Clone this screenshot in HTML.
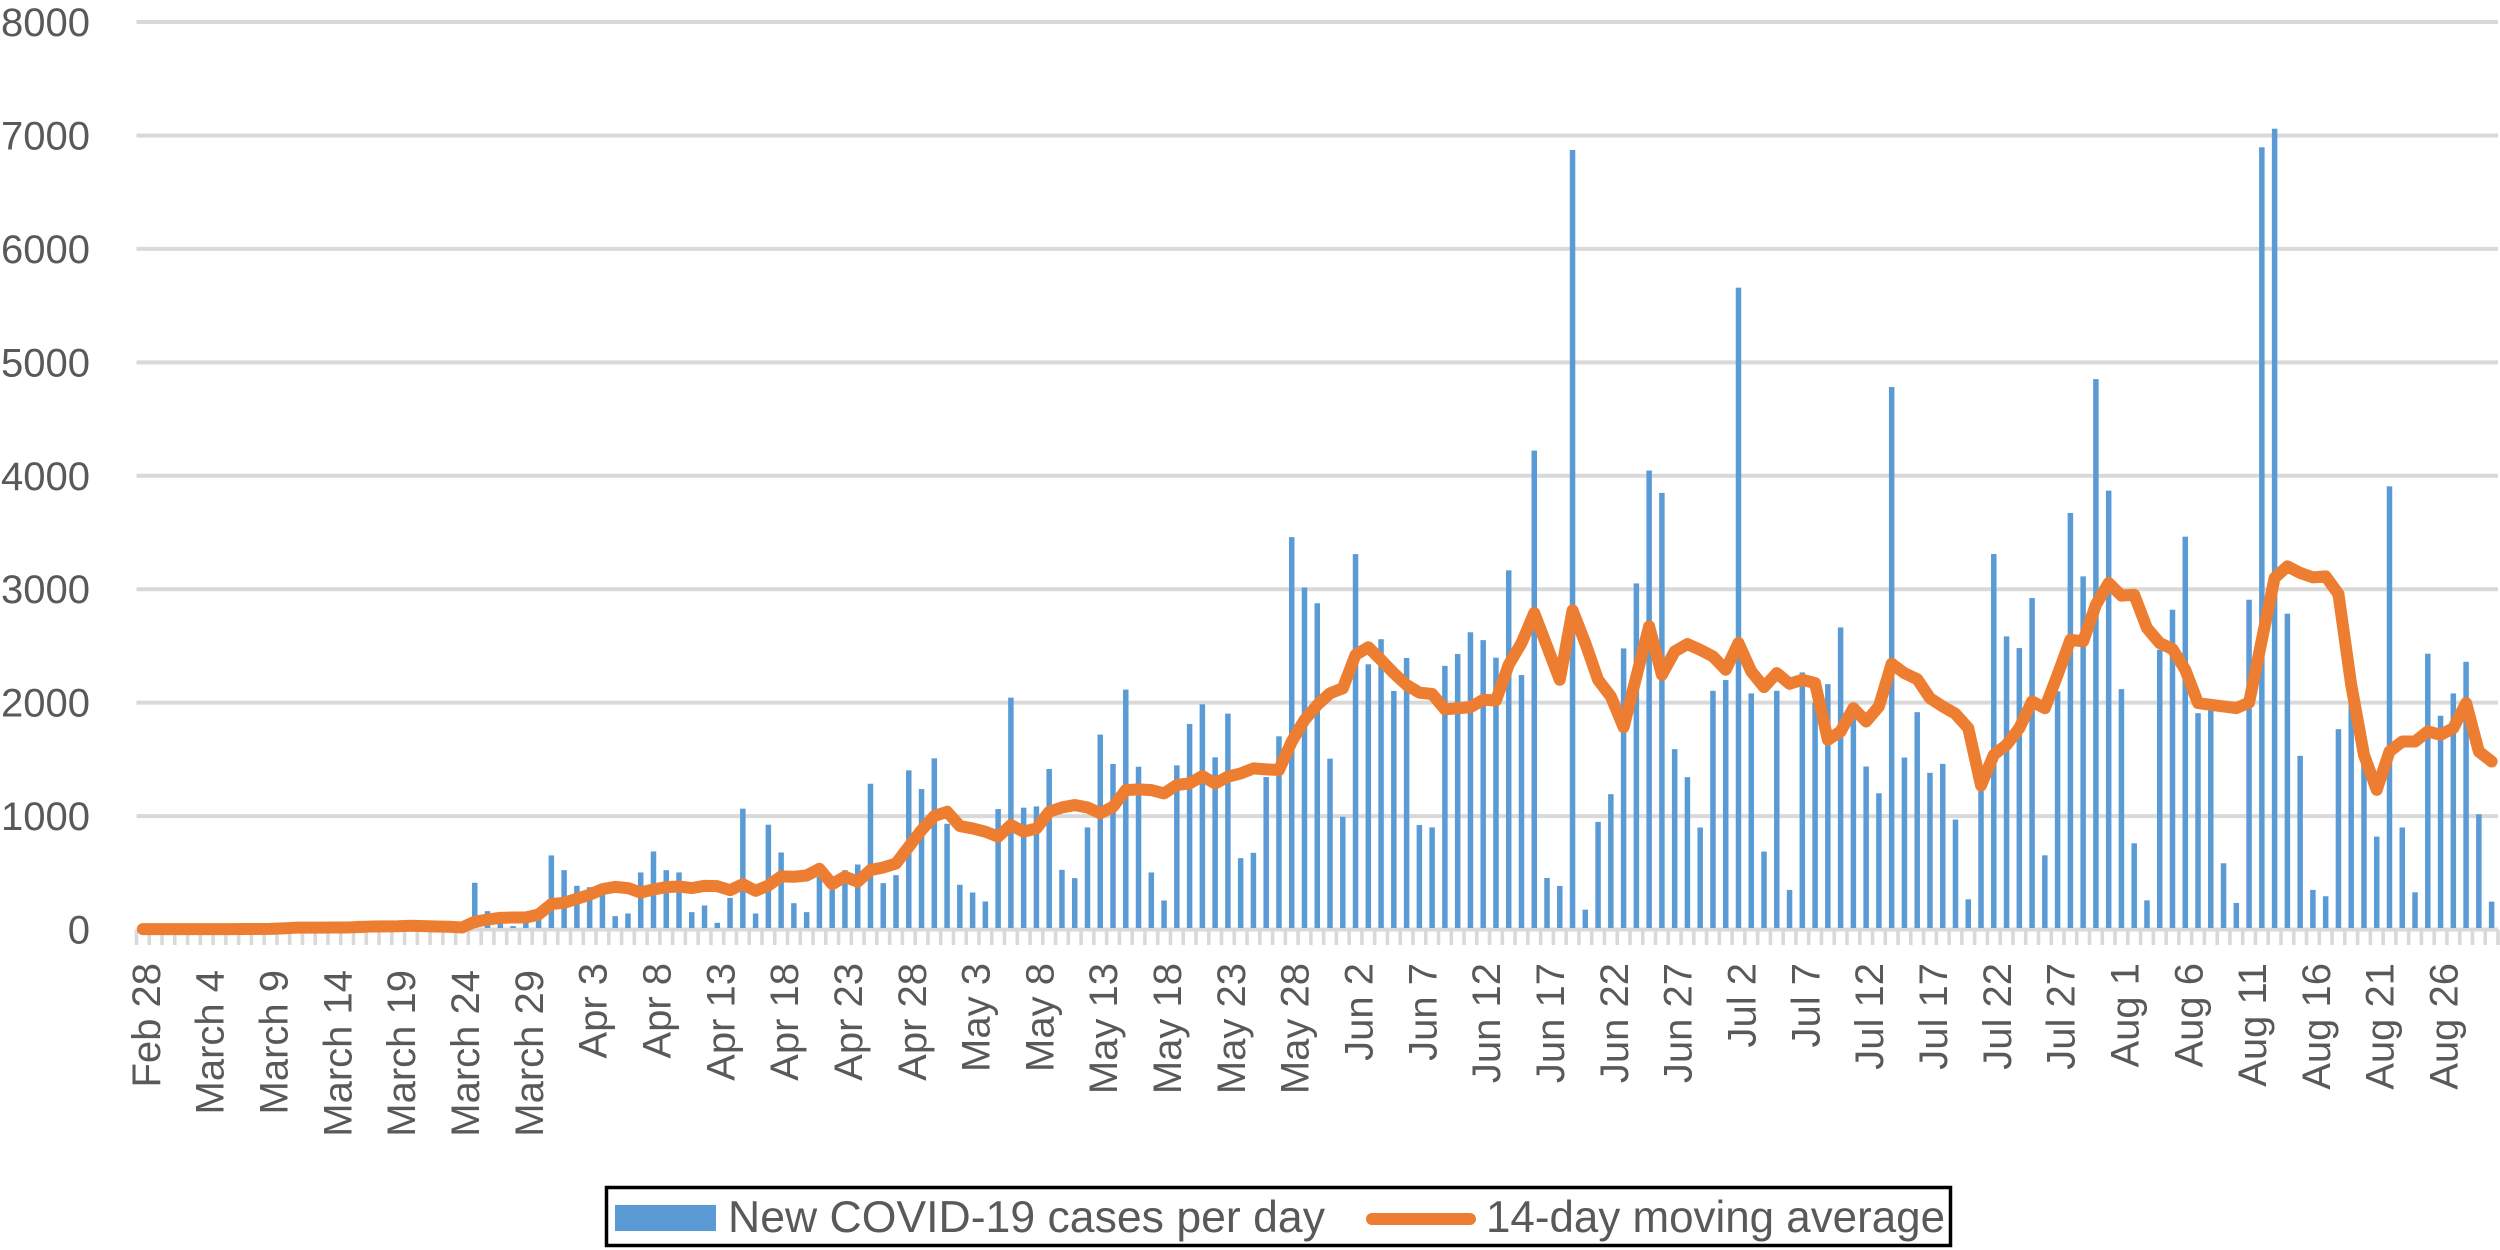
<!DOCTYPE html>
<html lang="en">
<head>
<meta charset="utf-8">
<title>New COVID-19 cases per day</title>
<style>
html,body{margin:0;padding:0;background:#fff;width:2500px;height:1250px;overflow:hidden}
svg{display:block}
text{font-family:"Liberation Sans",Arial,sans-serif;fill:#595959}
</style>
</head>
<body>
<svg id="chart" xmlns="http://www.w3.org/2000/svg" width="2500" height="1250" viewBox="0 0 2500 1250">
  <g id="grid"></g>
  <g id="ticks"></g>
  <g id="ylabels"></g>
  <g id="xlabels"></g>
  <g id="bars"></g>
  <path id="avgline" fill="none" stroke="#ed7d31" stroke-width="12" stroke-linejoin="round" stroke-linecap="round"></path>
  <g>
    <rect x="606.5" y="1187.5" width="1344" height="58" fill="#fff" stroke="#000" stroke-width="3.5"></rect>
    <rect x="615" y="1205" width="101" height="26" fill="#5b9bd5"></rect>
    <text x="728" y="1232" font-size="44.5" textLength="597" lengthAdjust="spacingAndGlyphs">New COVID-19 cases per day</text>
    <line x1="1372" y1="1219" x2="1470" y2="1219" stroke="#ed7d31" stroke-width="12" stroke-linecap="round"></line>
    <text x="1486" y="1232" font-size="44.5" textLength="459" lengthAdjust="spacingAndGlyphs">14-day moving average</text>
  </g>
</svg>
<script>
const yTickValues = [0, 1000, 2000, 3000, 4000, 5000, 6000, 7000, 8000];
const xTickLabels = ["Feb 28", "March 4", "March 9", "March 14", "March 19", "March 24", "March 29",
  "Apr 3", "Apr 8", "Apr 13", "Apr 18", "Apr 23", "Apr 28",
  "May 3", "May 8", "May 13", "May 18", "May 23", "May 28",
  "Jun 2", "Jun 7", "Jun 12", "Jun 17", "Jun 22", "Jun 27",
  "Jul 2", "Jul 7", "Jul 12", "Jul 17", "Jul 22", "Jul 27",
  "Aug 1", "Aug 6", "Aug 11", "Aug 16", "Aug 21", "Aug 26"];
const newCases = [
  0,0,0,0,0,0,0,1,1,2,
  2,4,5,3,5,8,10,76,20,15,
  30,35,25,15,10,30,412,162,100,30,
  60,100,653,523,385,373,340,118,141,503,
  688,523,503,153,212,59,279,1065,141,924,
  679,232,153,465,350,523,573,1285,409,479,
  1403,1238,1509,932,394,326,247,1062,2044,1074,
  1085,1415,526,453,900,1718,1459,2115,1435,503,
  256,1447,1812,1985,1518,1903,629,676,1344,1703,
  3459,3015,2876,1506,994,3309,2338,2559,2103,2394,
  921,900,2324,2429,2620,2551,2396,3166,2243,4222,
  454,384,6872,175,949,1193,2478,3051,4046,3849,
  1590,1343,899,2104,2199,5658,2081,687,2104,349,
  2266,2000,2163,2663,1900,1437,1201,4782,1516,1916,
  1381,1460,969,266,1350,3310,2584,2481,2922,654,
  2100,3672,3113,4852,3869,2119,760,257,2466,2819,
  3463,1907,2000,584,234,2907,6896,7059,2784,1531,
  349,293,1766,2050,1500,819,3907,899,328,2431,
  1884,2081,2360,1016,246];
const movingAverage = [
  3,3,3,3,3,3,3,3,4,4,
  5,10,16,17,17,18,18,22,27,28,
  29,33,30,27,24,18,68,88,103,106,
  106,132,224,235,271,306,356,376,365,326,
  353,374,379,365,385,382,347,400,341,388,
  468,465,476,535,400,465,421,524,547,582,
  729,876,1000,1038,912,891,862,818,921,862,
  891,1038,1076,1097,1076,1024,1082,1229,1235,1229,
  1200,1274,1288,1353,1288,1347,1376,1420,1412,1406,
  1656,1847,1979,2082,2126,2421,2488,2376,2259,2156,
  2088,2076,1941,1950,1960,2025,2019,2334,2525,2790,
  2496,2201,2813,2525,2201,2054,1784,2231,2672,2246,
  2451,2516,2466,2407,2290,2525,2275,2137,2260,2166,
  2201,2172,1672,1746,1951,1834,1966,2343,2260,2207,
  2040,1966,1901,1775,1270,1540,1628,1775,2010,1951,
  2246,2554,2540,2863,3054,2943,2951,2657,2525,2472,
  2290,1996,1981,1966,1951,2001,2554,3099,3201,3143,
  3104,3113,2957,2157,1540,1231,1569,1657,1657,1746,
  1716,1775,1996,1569,1481];

const SVG_NS = "http://www.w3.org/2000/svg";
const plotLeft = 136.5, plotRight = 2498, plotBottom = 929.5, plotTop = 22, yMax = 8000;
const step = (plotRight - plotLeft) / newCases.length;
const barWidth = 5.5;
const labelEvery = 5;

function xCenter(i) { return plotLeft + (i + 0.5) * step; }
function xEdge(i) { return plotLeft + i * step; }
function yScale(v) { return plotBottom - (v / yMax) * (plotBottom - plotTop); }
function make(tag, attrs, parent) {
  const el = document.createElementNS(SVG_NS, tag);
  for (const k in attrs) el.setAttribute(k, attrs[k]);
  parent.appendChild(el);
  return el;
}

const grid = document.getElementById("grid");
const ylabels = document.getElementById("ylabels");
yTickValues.forEach(function (v) {
  const line = make("line", {x1: plotLeft, x2: plotRight, y1: yScale(v), y2: yScale(v), stroke: "#d9d9d9", "stroke-width": 4}, grid);
  
  
  const label = make("text", {x: 90, y: yScale(v) + 14, "text-anchor": "end", "font-size": 40}, ylabels);
  
  
  label.textContent = String(v);
});

const ticks = document.getElementById("ticks");
for (let i = 0; i <= newCases.length; i++) {
  const tick = make("line", {x1: xEdge(i), x2: xEdge(i), y1: plotBottom, y2: 945, stroke: "#d9d9d9", "stroke-width": 3.6}, ticks);
  
  
}

const xlabels = document.getElementById("xlabels");
xTickLabels.forEach(function (name, n) {
  const px = xCenter(n * labelEvery) + 17;
  const top = name.indexOf("March") === 0 ? 970 : 963;
  const label = make("text", {transform: "translate(" + px + "," + top + ") rotate(-90)", "text-anchor": "end", "font-size": 40}, xlabels);
  
  
  label.textContent = name;
});

const bars = document.getElementById("bars");
newCases.forEach(function (v, i) {
  const bar = make("rect", {x: xCenter(i) - barWidth / 2, y: yScale(v), width: barWidth, height: plotBottom - 1.5 - yScale(v), fill: "#5b9bd5"}, bars);
  
  
});

document.getElementById("avgline").setAttribute("d", movingAverage.map(function (v, i) {
  return (i ? "L" : "M") + xCenter(i).toFixed(2) + " " + yScale(v).toFixed(2);
}).join(""));
</script>
</body>
</html>
